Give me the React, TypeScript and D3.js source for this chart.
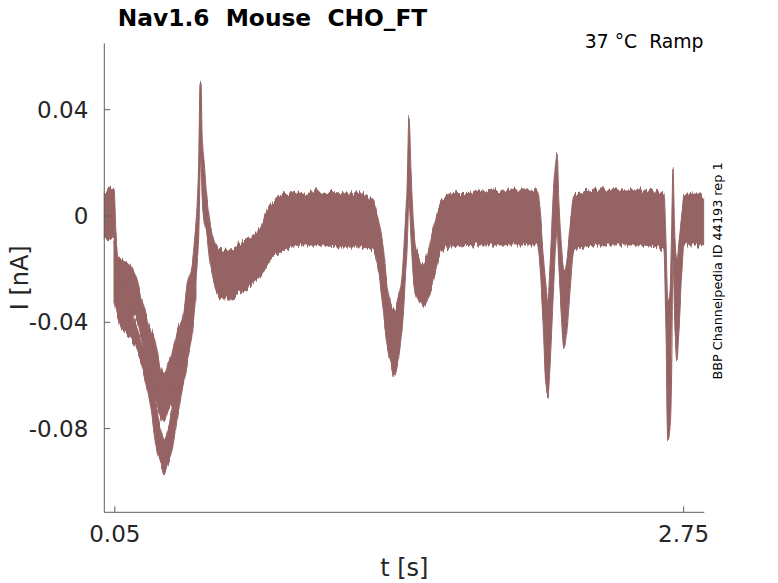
import React from "react";
import * as d3 from "d3";

// trace envelope (all sweeps overlaid)
const timeS = [
  0.0, 0.027, 0.046, 0.056, 0.065, 0.089, 0.122, 0.155, 0.184, 0.217, 0.241, 0.264, 0.283, 0.302,
  0.326, 0.35, 0.374, 0.397, 0.416, 0.43, 0.44, 0.449, 0.454, 0.459, 0.464, 0.473, 0.487, 0.502,
  0.53, 0.563, 0.597, 0.644, 0.692, 0.739, 0.787, 0.858, 0.929, 1.024, 1.119, 1.214, 1.275, 1.299,
  1.323, 1.342, 1.361, 1.375, 1.394, 1.413, 1.427, 1.437, 1.446, 1.456, 1.47, 1.489, 1.508, 1.532,
  1.555, 1.579, 1.603, 1.641, 1.783, 1.925, 2.054, 2.068, 2.082, 2.096, 2.106, 2.115, 2.13, 2.144,
  2.149, 2.158, 2.168, 2.182, 2.196, 2.21, 2.229, 2.353, 2.542, 2.656, 2.666, 2.675, 2.685, 2.694,
  2.699, 2.709, 2.718, 2.728, 2.742, 2.751, 2.845,
];
const upperNA = [
  0.009, 0.0105, 0.0098, -0.0075, -0.0154, -0.0165, -0.0184, -0.0241, -0.0335, -0.042, -0.0467,
  -0.0561, -0.0598, -0.0561, -0.0505, -0.0425, -0.0375, -0.0245, -0.0184, -0.0079, 0.0023, 0.0248,
  0.0493, 0.0504, 0.031, 0.0215, 0.007, -0.0026, -0.0105, -0.0128, -0.0128, -0.0102, -0.0079,
  -0.0045, 0.0045, 0.0083, 0.009, 0.009, 0.0087, 0.0087, 0.006, 0.0004, -0.0109, -0.026, -0.0335,
  -0.0354, -0.0316, -0.0222, -0.0053, 0.0098, 0.0369, 0.0173, -0.0053, -0.0147, -0.0184, -0.0147,
  -0.0072, 0.0004, 0.006, 0.0087, 0.009, 0.0098, 0.0098, 0.0023, -0.0128, -0.026, -0.0316, -0.0203,
  0.006, 0.0211, 0.0241, 0.006, -0.009, -0.0203, -0.0166, -0.0053, 0.0079, 0.0098, 0.0098, 0.0087,
  -0.009, -0.0316, -0.0279, -0.0015, 0.0181, -0.009, -0.0166, -0.009, 0.0023, 0.0079, 0.0079,
];
const lowerNA = [
  -0.0083, -0.009, -0.0075, -0.0316, -0.0365, -0.034, -0.0355, -0.0395, -0.0485, -0.0631, -0.0685,
  -0.0749, -0.0775, -0.073, -0.0715, -0.0662, -0.0617, -0.0465, -0.0391, -0.0267, -0.0184, -0.0053,
  0.0136, 0.0211, 0.0072, -0.0015, -0.0075, -0.0177, -0.0279, -0.0316, -0.0316, -0.0286, -0.0267,
  -0.0234, -0.0166, -0.0128, -0.0109, -0.0109, -0.0117, -0.0117, -0.0128, -0.0203, -0.0354, -0.0486,
  -0.0561, -0.0598, -0.0542, -0.0429, -0.026, -0.0128, 0.006, -0.009, -0.026, -0.0316, -0.0343,
  -0.0316, -0.026, -0.0184, -0.0128, -0.0117, -0.0109, -0.0109, -0.0109, -0.0184, -0.0391, -0.0636,
  -0.0674, -0.058, -0.0316, -0.009, -0.0053, -0.0203, -0.0354, -0.0504, -0.0429, -0.0279, -0.0128,
  -0.0109, -0.0109, -0.0128, -0.0429, -0.0854, -0.0805, -0.0542, -0.0166, -0.0429, -0.0542, -0.0429,
  -0.0203, -0.0109, -0.0109,
];

// the deeper sweep that splits off during the first ramp
const sweep2TimeS = [
  0.046, 0.075, 0.108, 0.136, 0.184, 0.217, 0.25, 0.269, 0.283, 0.302, 0.321, 0.345, 0.369, 0.392,
  0.416, 0.435,
];
const sweep2UpperNA = [
  -0.009, -0.0241, -0.0297, -0.0373, -0.0493, -0.0591, -0.073, -0.0805, -0.0843, -0.0805, -0.073,
  -0.0617, -0.0504, -0.0391, -0.0259, -0.0109,
];
const sweep2LowerNA = [
  -0.0316, -0.041, -0.0448, -0.0474, -0.058, -0.0704, -0.088, -0.0937, -0.0967, -0.0937, -0.088,
  -0.0768, -0.0655, -0.0561, -0.045, -0.0297,
];

const yTicks = [0.04, 0, -0.04, -0.08];
const yTickLabels = ["0.04", "0", "-0.04", "-0.08"];
const xTicks = [0.05, 2.75];
const xTickLabels = ["0.05", "2.75"];

const W = 778;
const H = 583;
const left = 104.3;
const right = 704.3;
const top = 43.3;
const bottom = 512.3;
const traceColor = "#956363";
const axisColor = "#5f5f5f";
const textColor = "#262626";
const font = "'DejaVu Sans', sans-serif";

export default function App() {
  const x = d3.scaleLinear().domain([0, 2.848]).range([left, right]);
  const y = d3.scaleLinear().domain([-0.1115, 0.065]).range([bottom, top]);

  const band = d3
    .area<number>()
    .x((_, i) => x(timeS[i]))
    .y0((_, i) => y(lowerNA[i]))
    .y1((_, i) => y(upperNA[i]))
    .curve(d3.curveMonotoneX);

  const band2 = d3
    .area<number>()
    .x((_, i) => x(sweep2TimeS[i]))
    .y0((_, i) => y(sweep2LowerNA[i]))
    .y1((_, i) => y(sweep2UpperNA[i]))
    .curve(d3.curveMonotoneX);

  const midY = (top + bottom) / 2;

  return (
    <svg
      width={W}
      height={H}
      style={{ position: "fixed", left: 0, top: 0, background: "#fff" }}
      fontFamily={font}
    >
      <defs>
        {/* jagged recording-noise look on the envelope edges */}
        <filter id="noisy" x="-2%" y="-10%" width="104%" height="120%">
          <feTurbulence type="fractalNoise" baseFrequency="0.4 0.012" numOctaves={3} seed={7} result="n" />
          <feColorMatrix
            in="n"
            type="matrix"
            values="1 0 0 0 0  0 0 0 0 0.5  0 0 0 0 0.5  0 0 0 0 1"
            result="m"
          />
          <feDisplacementMap in="SourceGraphic" in2="m" scale={12} xChannelSelector="G" yChannelSelector="R" />
        </filter>
      </defs>
      <g filter="url(#noisy)">
        <path d={band(timeS) || ""} fill={traceColor} stroke={traceColor} strokeWidth={1} />
        <path d={band2(sweep2TimeS) || ""} fill={traceColor} stroke={traceColor} strokeWidth={1} />
      </g>

      {/* axes */}
      <line x1={left} x2={left} y1={top} y2={bottom} stroke={axisColor} />
      <line x1={left} x2={right} y1={bottom} y2={bottom} stroke={axisColor} />
      {yTicks.map((t, i) => (
        <g key={"y" + i}>
          <line x1={left} x2={left + 6} y1={y(t)} y2={y(t)} stroke={axisColor} />
          <text
            x={left - 16}
            y={y(t)}
            textAnchor="end"
            dominantBaseline="central"
            fontSize={23}
            fill={textColor}
          >
            {yTickLabels[i]}
          </text>
        </g>
      ))}
      {xTicks.map((t, i) => (
        <g key={"x" + i}>
          <line x1={x(t)} x2={x(t)} y1={bottom} y2={bottom - 6} stroke={axisColor} />
          <text x={x(t)} y={542} textAnchor="middle" fontSize={23} fill={textColor}>
            {xTickLabels[i]}
          </text>
        </g>
      ))}

      <text x={(left + right) / 2} y={576} textAnchor="middle" fontSize={24} fill={textColor}>
        t [s]
      </text>
      <text
        transform={`translate(28,${midY}) rotate(-90)`}
        textAnchor="middle"
        fontSize={24}
        fill={textColor}
      >
        I [nA]
      </text>

      <text x={272.5} y={26} textAnchor="middle" fontSize={23.3} fontWeight="bold" fill="#000">
        Nav1.6{"\u00a0\u00a0"}Mouse{"\u00a0\u00a0"}CHO_FT
      </text>
      <text x={703.5} y={47.5} textAnchor="end" fontSize={18.8} fill="#000">
        37 °C{"\u00a0\u00a0"}Ramp
      </text>
      <text
        transform={`translate(722,271) rotate(-90)`}
        textAnchor="middle"
        fontSize={12.8}
        fill="#000"
      >
        BBP Channelpedia ID 44193 rep 1
      </text>
    </svg>
  );
}
